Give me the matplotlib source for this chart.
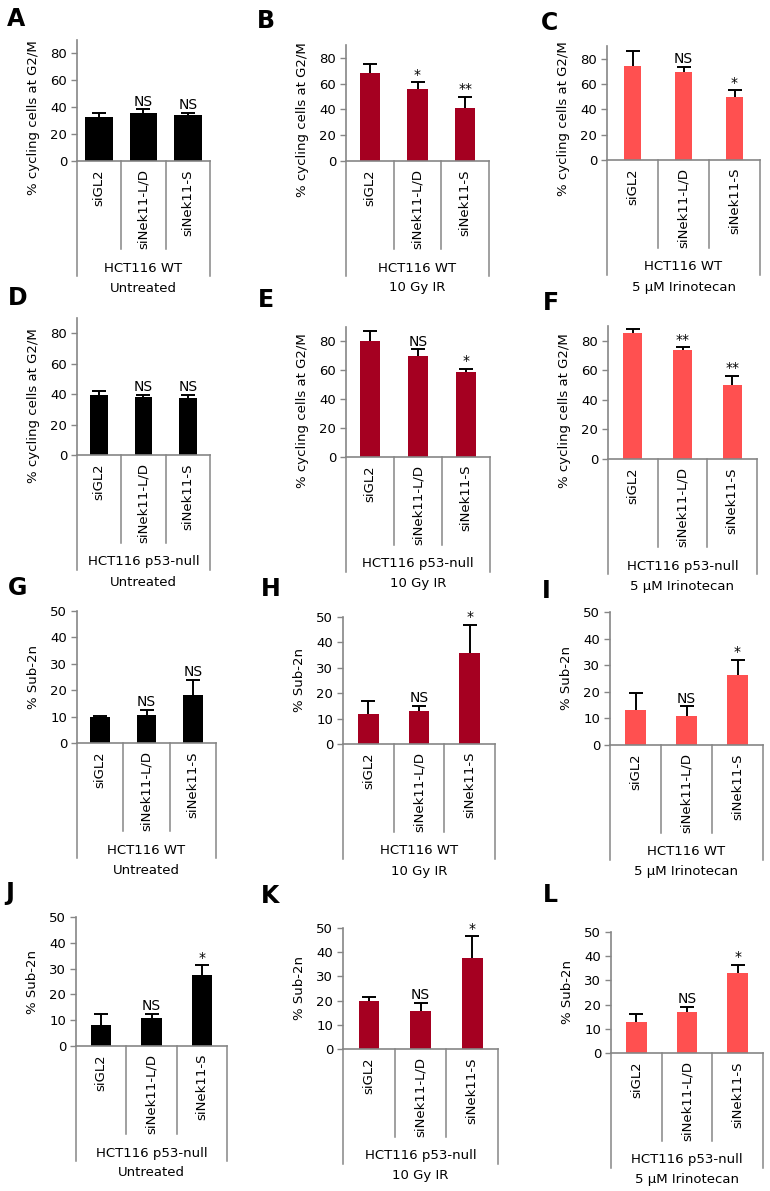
import matplotlib
matplotlib.use('Agg')
import matplotlib.pyplot as plt

categories = ['siGL2', 'siNek11-L/D', 'siNek11-S']

# % cycling cells at G2/M
a_mean = [33, 36, 34]
a_err = [3, 2.5, 2]
a_sig = ['', 'NS', 'NS']
b_mean = [68, 55.5, 41]
b_err = [7, 5.5, 9]
b_sig = ['', '*', '**']
c_mean = [74, 69.5, 50]
c_err = [12, 4, 5]
c_sig = ['', 'NS', '*']
d_mean = [39.5, 38, 37.5]
d_err = [2.5, 1.5, 2]
d_sig = ['', 'NS', 'NS']
e_mean = [80.5, 70, 59]
e_err = [7, 4.5, 2]
e_sig = ['', 'NS', '*']
f_mean = [85.5, 73.5, 50]
f_err = [2.5, 2, 6.5]
f_sig = ['', '**', '**']

# % Sub-2n
g_mean = [10, 10.5, 18]
g_err = [0.4, 2, 6]
g_sig = ['', 'NS', 'NS']
h_mean = [12, 13, 36]
h_err = [5, 2, 11]
h_sig = ['', 'NS', '*']
i_mean = [13, 11, 26.5]
i_err = [6.5, 3.5, 5.5]
i_sig = ['', 'NS', '*']
j_mean = [8, 11, 27.5]
j_err = [4.5, 1.5, 3.8]
j_sig = ['', 'NS', '*']
k_mean = [20, 15.5, 37.5]
k_err = [1.5, 3.5, 9]
k_sig = ['', 'NS', '*']
l_mean = [13, 17, 33]
l_err = [3, 2, 3.5]
l_sig = ['', 'NS', '*']

cell_lines = ['HCT116 WT', 'HCT116 p53-null']
treatments = ['Untreated', '10 Gy IR', '5 \u03bcM Irinotecan']
colors = ['#000000', '#A50021', '#FF5050']

W, H = 770, 1191
GRAY = '#868686'

plt.rcParams['font.family'] = 'DejaVu Sans'
fig = plt.figure(figsize=(W / 100, H / 100), dpi=100)

# axes boxes in pixels: left, right, top, zero line ; bar width
boxes = {
    'A': (77, 210, 40, 161, 0.62), 'B': (346, 489, 45, 161, 0.43), 'C': (607, 760, 46, 160, 0.34),
    'D': (77, 210, 318, 455, 0.40), 'E': (346, 490, 327, 457, 0.40), 'F': (608, 757, 326, 459, 0.38),
    'G': (77, 216, 611, 743, 0.42), 'H': (343, 495, 617, 744, 0.41), 'I': (610, 763, 612, 745, 0.40),
    'J': (76, 227, 917, 1046, 0.40), 'K': (343, 498, 928, 1049, 0.40), 'L': (611, 763, 932, 1053, 0.41),
}
letter_pos = {
    'A': (7, 7), 'B': (257, 9), 'C': (541, 11),
    'D': (8, 286), 'E': (258, 288), 'F': (543, 291),
    'G': (8, 576), 'H': (261, 577), 'I': (542, 579),
    'J': (5, 881), 'K': (261, 884), 'L': (543, 883),
}

panels = [
    ('A', a_mean, a_err, a_sig, 0, 0), ('B', b_mean, b_err, b_sig, 0, 1), ('C', c_mean, c_err, c_sig, 0, 2),
    ('D', d_mean, d_err, d_sig, 1, 0), ('E', e_mean, e_err, e_sig, 1, 1), ('F', f_mean, f_err, f_sig, 1, 2),
    ('G', g_mean, g_err, g_sig, 0, 0), ('H', h_mean, h_err, h_sig, 0, 1), ('I', i_mean, i_err, i_sig, 0, 2),
    ('J', j_mean, j_err, j_sig, 1, 0), ('K', k_mean, k_err, k_sig, 1, 1), ('L', l_mean, l_err, l_sig, 1, 2),
]


def draw_panel(letter, means, errs, sig, cell, treat):
    x0, x1, top, zero, bw = boxes[letter]
    w_px, h_px = x1 - x0, zero - top
    ax = fig.add_axes([x0 / W, 1 - zero / H, w_px / W, h_px / H])
    cycling = letter in 'ABCDEF'
    xs = list(range(len(categories)))
    ax.bar(xs, means, width=bw, color=colors[treat], zorder=2)
    eb = ax.errorbar(xs, means, yerr=[[0] * len(errs), errs], fmt='none', ecolor='black',
                     elinewidth=1.4, capsize=5, capthick=1.4, zorder=3)
    # only the upper cap, like the original
    eb[1][0].set_visible(False)
    ax.set_xlim(-0.5, 2.5)
    if cycling:
        ax.set_ylim(0, 90)
        ax.set_yticks(range(0, 81, 20))
        ax.set_ylabel('% cycling cells at G2/M', fontsize=9.5)
        ax.yaxis.set_label_coords(-37 / w_px, 0.36)
    else:
        ax.set_ylim(0, 50)
        ax.set_yticks(range(0, 51, 10))
        ax.set_ylabel('% Sub-2n', fontsize=9.5)
        ax.yaxis.set_label_coords(-37 / w_px, 0.5)
    ax.set_xticks([])
    for s in ('top', 'right'):
        ax.spines[s].set_visible(False)
    for s in ('left', 'bottom'):
        ax.spines[s].set_color(GRAY)
        ax.spines[s].set_linewidth(1.2)
    ax.tick_params(axis='y', direction='out', length=4, width=1, color=GRAY, labelsize=9.5, pad=3)

    tr = ax.get_xaxis_transform()
    for i, lab in enumerate(categories):
        ax.text(i, -8 / h_px, lab, rotation=90, ha='center', va='top', transform=tr, fontsize=9.5)
    for xb in (0.5, 1.5):
        ax.plot([xb, xb], [0, -88 / h_px], transform=tr, color=GRAY, lw=1.1, clip_on=False)
    for xb in (-0.5, 2.5):
        ax.plot([xb, xb], [0, -115 / h_px], transform=tr, color=GRAY, lw=1.1, clip_on=False)
    ax.text(1, -107 / h_px, cell_lines[cell], ha='center', va='center', transform=tr, fontsize=9.5)
    ax.text(1, -127 / h_px, treatments[treat], ha='center', va='center', transform=tr, fontsize=9.5)

    ymax = ax.get_ylim()[1]
    for i, s in enumerate(sig):
        if s:
            ax.text(i, means[i] + errs[i] + ymax * 0.005, s, ha='center', va='bottom', fontsize=10)

    lx, ly = letter_pos[letter]
    fig.text(lx / W, 1 - ly / H, letter, ha='left', va='top', fontsize=17, fontweight='heavy')


for letter, means, errs, sig, cell, treat in panels:
    draw_panel(letter, means, errs, sig, cell, treat)

fig.savefig('out.png', dpi=100)
